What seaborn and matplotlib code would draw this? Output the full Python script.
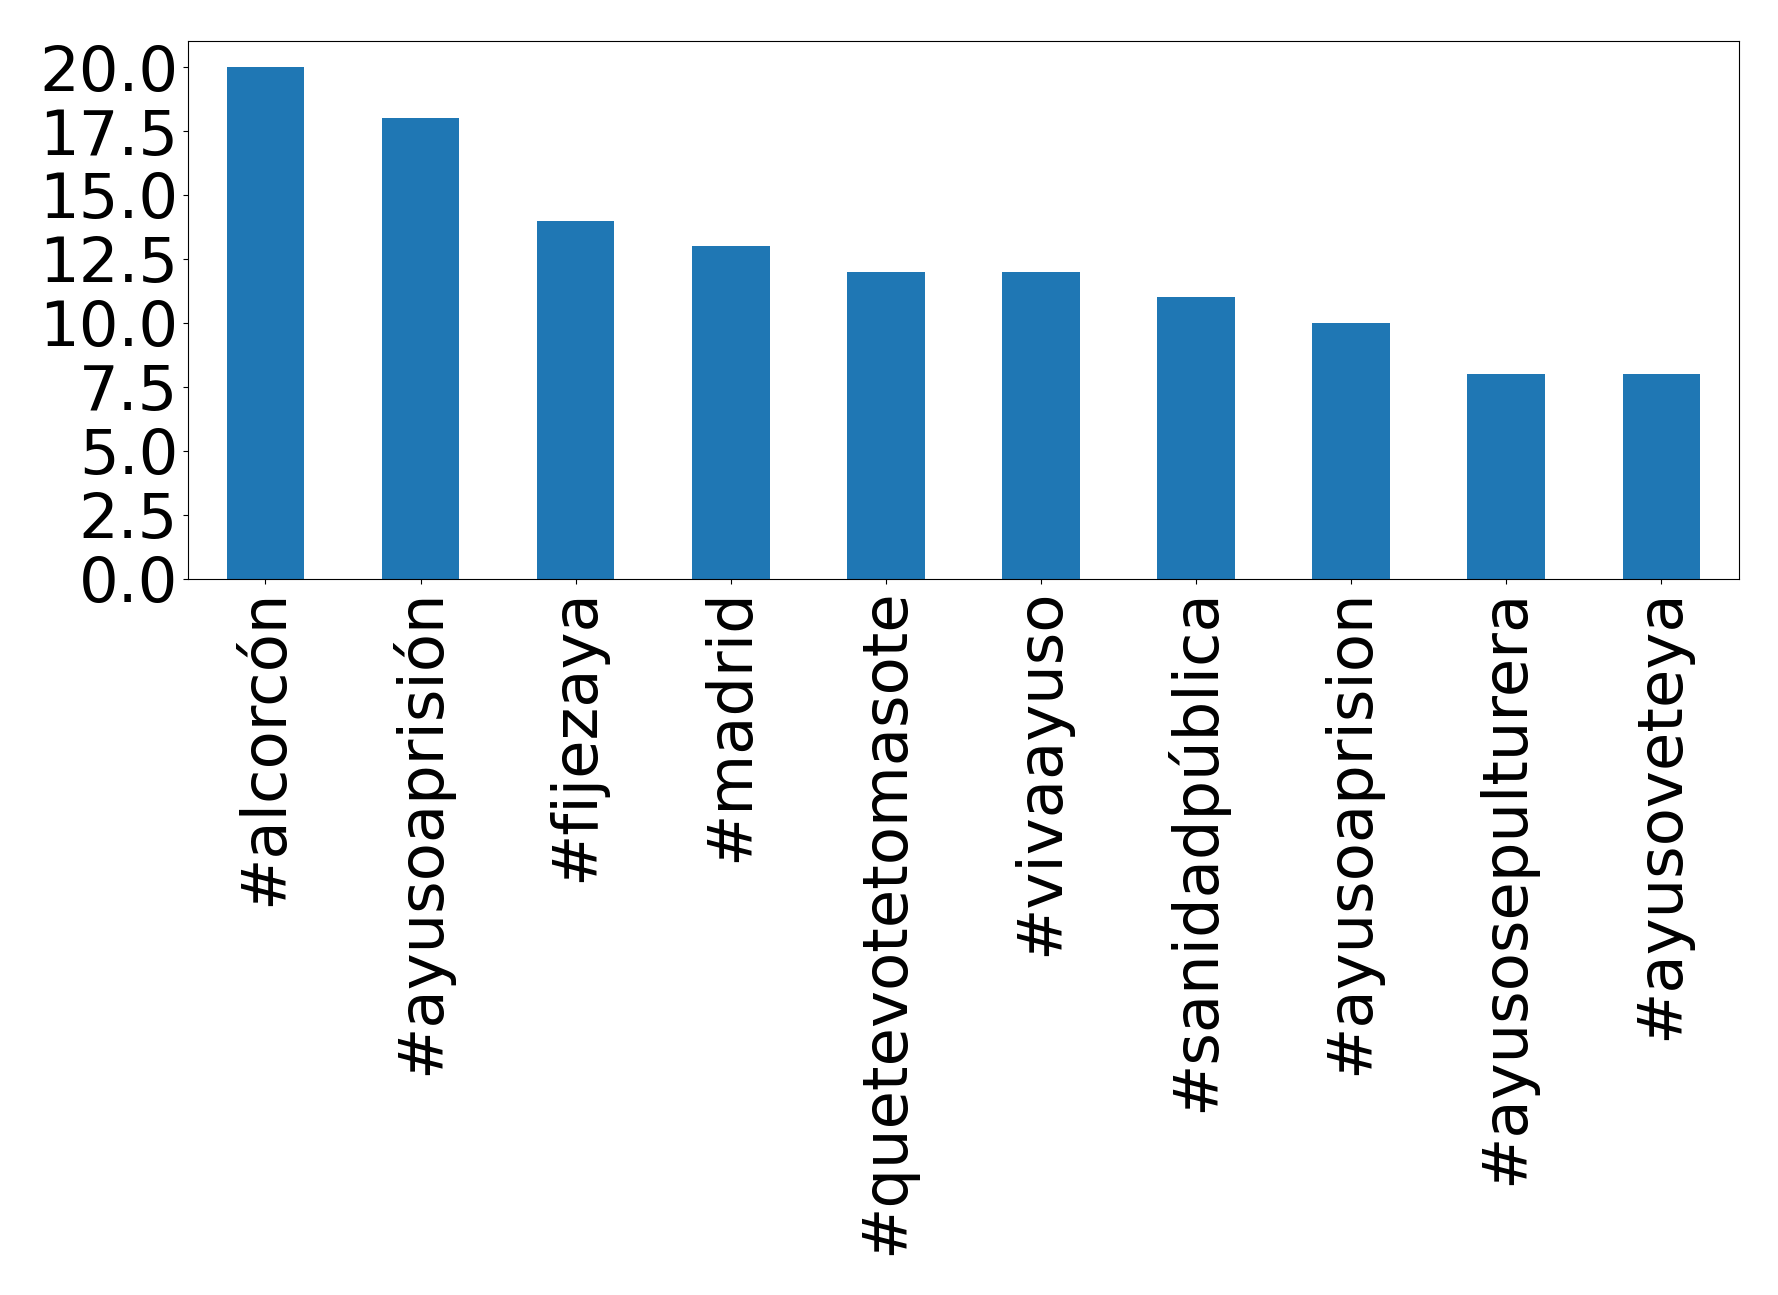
import matplotlib
matplotlib.use("Agg")
import matplotlib.pyplot as plt
import pandas as pd
import seaborn as sns

hashtags = [
    "#alcorcón", "#ayusoaprisión", "#fijezaya", "#madrid", "#quetevotetomasote",
    "#vivaayuso", "#sanidadpública", "#ayusoaprision", "#ayusosepulturera", "#ayusoveteya",
]
counts = [20, 18, 14, 13, 12, 12, 11, 10, 8, 8]

df = pd.DataFrame({"hashtag": hashtags, "count": counts})

fig, ax = plt.subplots(figsize=(17.78, 12.95), dpi=100)
sns.barplot(data=df, x="hashtag", y="count", color="#1f77b4", saturation=1,
            width=0.5, ax=ax)
ax.set_xlim(-0.5, len(hashtags) - 0.5)
ax.set_ylim(0, 21)
ax.set_yticks([0, 2.5, 5, 7.5, 10, 12.5, 15, 17.5, 20])
ax.set_yticklabels([f"{v:.1f}" for v in [0, 2.5, 5, 7.5, 10, 12.5, 15, 17.5, 20]])
ax.set_xlabel("")
ax.set_ylabel("")
ax.tick_params(axis="both", labelsize=45)
ax.tick_params(axis="x", labelrotation=90)
fig.subplots_adjust(left=0.1057, right=0.978, top=0.968, bottom=0.553)
fig.savefig("out.png", dpi=100)
